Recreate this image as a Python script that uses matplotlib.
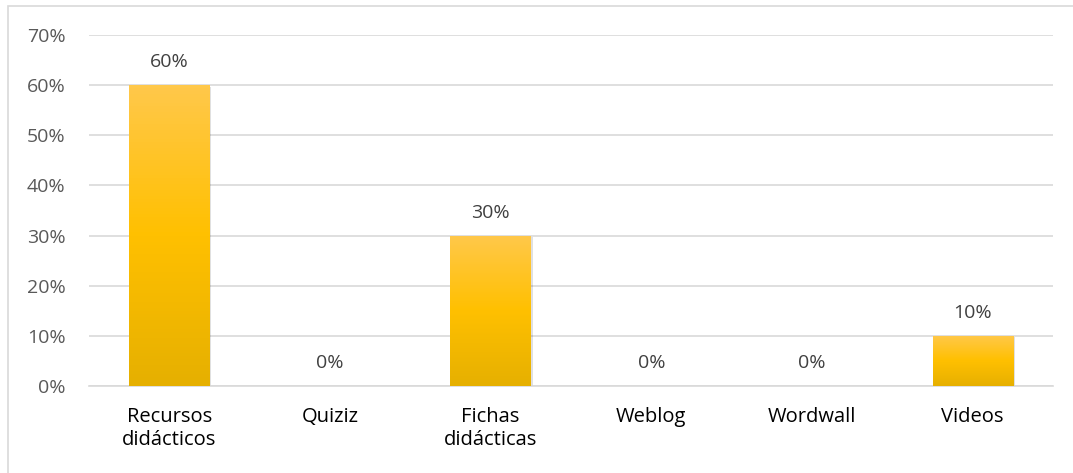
import matplotlib.pyplot as plt
import matplotlib.patches as patches
import numpy as np
from matplotlib.colors import LinearSegmentedColormap

categories = ["Recursos\ndidácticos", "Quiziz", "Fichas\ndidácticas", "Weblog", "Wordwall", "Videos"]
values = [0.60, 0.00, 0.30, 0.00, 0.00, 0.10]
yticks = [0.0, 0.1, 0.2, 0.3, 0.4, 0.5, 0.6, 0.7]

plt.rcParams['font.family'] = ['Open Sans', 'DejaVu Sans']

fig = plt.figure(figsize=(10.73, 4.73), dpi=100)
# outer chart border (only top/left visible in the reference)
fig.add_artist(patches.Rectangle((7.5 / 1073, -0.1), 1.2, 1 - 6.5 / 473 + 0.1,
                                 transform=fig.transFigure, fill=False,
                                 edgecolor='#d9d9d9', linewidth=1.2))

ax = fig.add_axes([89 / 1073, 1 - 386 / 473, (1053 - 89) / 1073, (386 - 35) / 473])
x = np.arange(len(categories))
ax.set_xlim(-0.5, len(categories) - 0.5)
ax.set_ylim(0, 0.7)

grad = LinearSegmentedColormap.from_list('g', ['#e6b000', '#ffc000', '#ffc84a'])
bars = ax.bar(x, values, width=0.5, color='none', zorder=3)
for b, v in zip(bars, values):
    if v <= 0:
        continue
    x0, w = b.get_x(), b.get_width()
    # soft shadow
    ax.add_patch(patches.Rectangle((x0 + 0.012, -0.003), w, v, facecolor='#000000',
                                   alpha=0.12, edgecolor='none', zorder=2))
    img = ax.imshow(np.linspace(0, 1, 100).reshape(-1, 1), cmap=grad, origin='lower',
                    extent=[x0, x0 + w, 0, v], aspect='auto', zorder=3)
    img.set_clip_path(b)

for xi, v in zip(x, values):
    ax.text(xi, v + 0.028, f"{v * 100:.0f}%", ha='center', va='bottom',
            fontsize=14, color='#404040', zorder=4)

ax.set_yticks(yticks)
ax.set_yticklabels([f"{t * 100:.0f}%" for t in yticks], fontsize=14, color='#595959')
ax.set_xticks(x)
ax.set_xticklabels(categories, fontsize=14.5, color='#000000', linespacing=1.2, va='top')
ax.tick_params(axis='both', length=0)
ax.tick_params(axis='x', pad=15)
ax.tick_params(axis='y', pad=17)
ax.grid(axis='y', color='#d9d9d9', linewidth=1.2, zorder=0)
ax.set_axisbelow(True)
for s in ['top', 'right', 'left']:
    ax.spines[s].set_visible(False)
ax.spines['bottom'].set_color('#d9d9d9')
ax.spines['bottom'].set_linewidth(1.2)

plt.savefig('out.png', dpi=100)
